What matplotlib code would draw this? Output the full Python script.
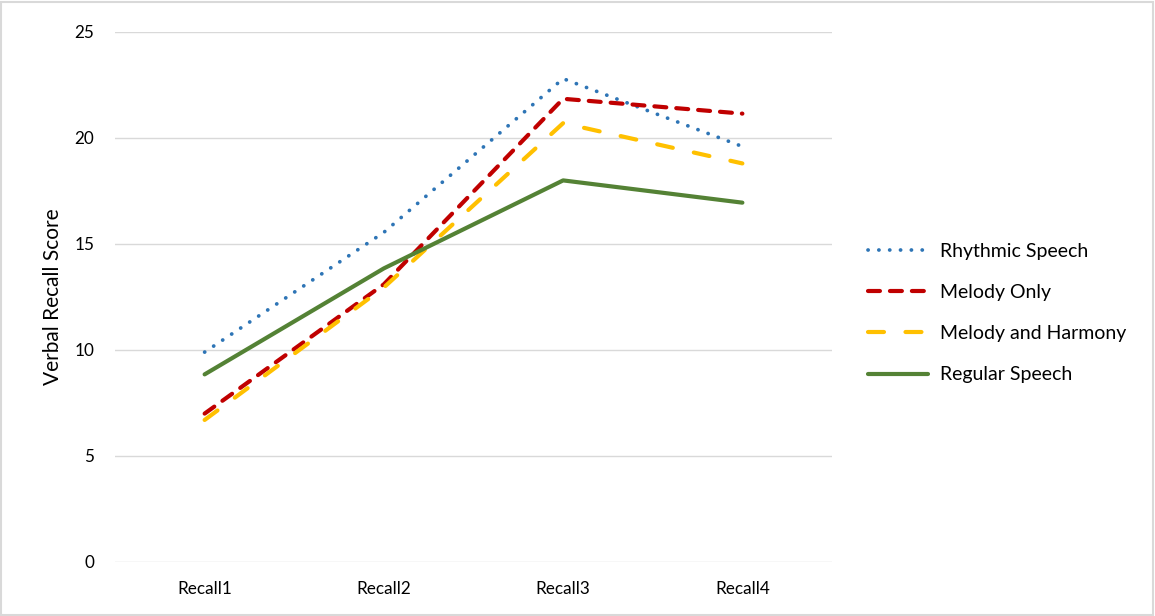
import matplotlib
matplotlib.use("Agg")
import matplotlib.pyplot as plt
from matplotlib.patches import Rectangle

categories = ["Recall1", "Recall2", "Recall3", "Recall4"]
rhythmic_speech = [9.9, 15.55, 22.8, 19.6]
melody_only = [7.0, 13.1, 21.85, 21.15]
melody_harmony = [6.7, 12.95, 20.7, 18.8]
regular_speech = [8.85, 13.85, 18.0, 16.95]
yticks = [0, 5, 10, 15, 20, 25]

plt.rcParams['font.family'] = ['Lato', 'DejaVu Sans']
plt.rcParams['lines.scale_dashes'] = False

fig = plt.figure(figsize=(11.55, 6.16), dpi=100)
W, H = 1155, 616
ax = fig.add_axes([115 / W, 1 - 562 / H, (832 - 115) / W, (562 - 32) / H])

x = list(range(len(categories)))
grid_c = "#d9d9d9"
for yv in yticks:
    ax.axhline(yv, color=grid_c, lw=1.0, zorder=0)

l1, = ax.plot(x, rhythmic_speech, color="#2E75B6", lw=2.7, dash_capstyle="round",
              solid_capstyle="round", label="Rhythmic Speech",
              linestyle=(0, (0.1, 7.7)))
l2, = ax.plot(x, melody_only, color="#C00000", lw=3.0, dash_capstyle="round",
              label="Melody Only", linestyle=(0, (8.6, 7.2)))
l3, = ax.plot(x, melody_harmony, color="#FFC000", lw=3.0, dash_capstyle="round",
              label="Melody and Harmony", linestyle=(0, (11.5, 15.5)))
l4, = ax.plot(x, regular_speech, color="#548235", lw=3.0, solid_capstyle="round",
              label="Regular Speech")

ax.set_xlim(-0.5, 3.5)
ax.set_ylim(0, 25)
ax.set_xticks(x)
ax.set_xticklabels(categories)
ax.set_yticks(yticks)
for s in ax.spines.values():
    s.set_visible(False)
ax.tick_params(axis='both', length=0, labelsize=12.3, colors="#000000")
ax.tick_params(axis='y', pad=15)
ax.tick_params(axis='x', pad=14)
ax.set_ylabel("Verbal Recall Score", fontsize=15, labelpad=8)

leg = fig.legend(handles=[l1, l2, l3, l4], loc="upper left",
                 bbox_to_anchor=(868 / W, 1 - 243 / H), frameon=False,
                 fontsize=14, handlelength=3.1, handletextpad=0.62,
                 labelspacing=1.24, borderpad=0, borderaxespad=0)

fig.patches.append(Rectangle((1 / W, 1 / H), 1 - 3 / W, 1 - 3 / H, transform=fig.transFigure,
                             fill=False, edgecolor="#d9d9d9", lw=1.5))

fig.savefig("out.png", dpi=100)
